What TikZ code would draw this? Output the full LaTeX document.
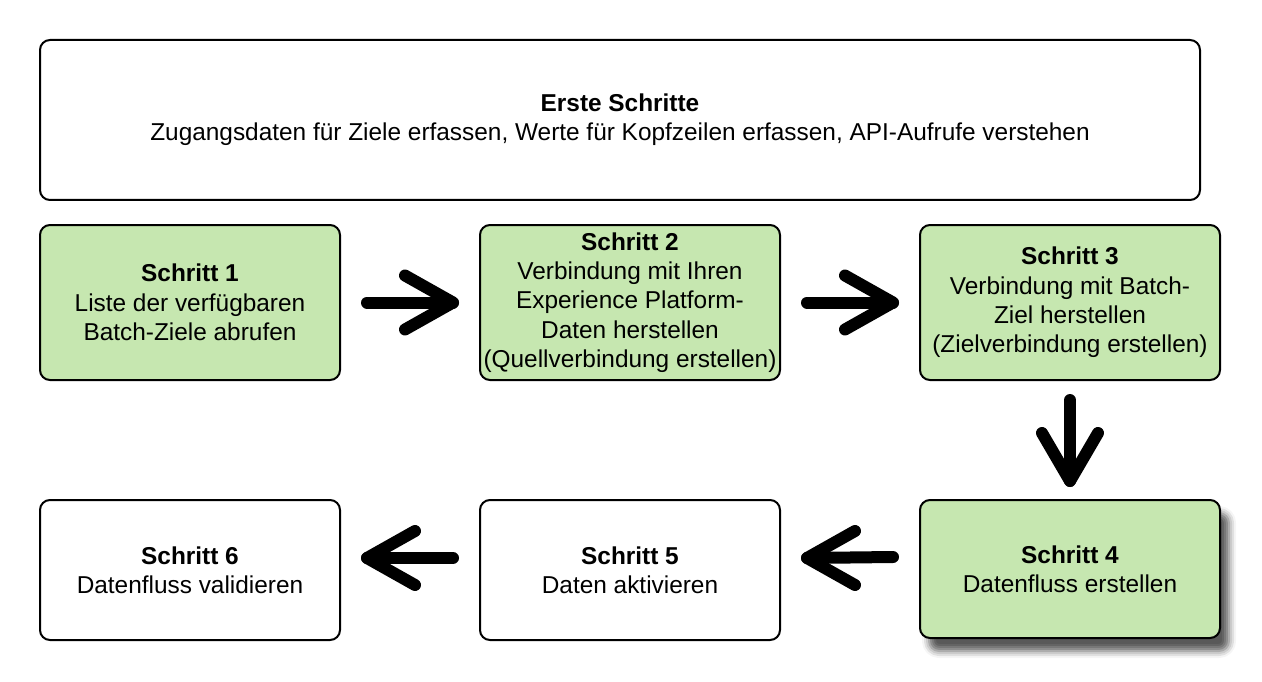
\documentclass[tikz,border=0pt]{standalone}
\usepackage{fontspec}
\setmainfont{Liberation Sans}
\usetikzlibrary{calc,shadows.blur}
\definecolor{stepgreen}{RGB}{198,231,176}
\tikzset{
  box/.style={draw=black, line width=2pt, rounded corners=10pt, align=center,
    minimum width=300pt, minimum height=155pt, inner sep=0pt,
    font=\fontsize{24.4}{29.3}\selectfont},
  greenbox/.style={box, fill=stepgreen},
  whitebox/.style={box, fill=white},
  bigarrow/.style={line width=12pt, line cap=round, line join=round, draw=black},
}
\begin{document}
\begin{tikzpicture}[x=1pt,y=-1pt]
\useasboundingbox (0,0) rectangle (1262,682);
\node[whitebox, minimum width=1160pt, minimum height=160pt] (top) at (620,120)
  {\textbf{Erste Schritte}\\Zugangsdaten für Ziele erfassen, Werte für Kopfzeilen erfassen, API-Aufrufe verstehen};
\node[greenbox] (s1) at (190,302.5) {\textbf{Schritt 1}\\Liste der verfügbaren\\Batch-Ziele abrufen};
\node[greenbox] (s2) at (630,302.5) {\textbf{Schritt 2}\\Verbindung mit Ihren\\Experience Platform-\\Daten herstellen\\(Quellverbindung erstellen)};
\node[greenbox] (s3) at (1070,302.5) {\textbf{Schritt 3}\\Verbindung mit Batch-\\Ziel herstellen\\(Zielverbindung erstellen)};
\node[greenbox, minimum height=138pt, blur shadow={shadow xshift=9pt, shadow yshift=-13pt, shadow blur radius=7pt, shadow opacity=65}] (s4) at (1070,569) {\textbf{Schritt 4}\\Datenfluss erstellen};
\node[whitebox, minimum height=140pt] (s5) at (630,570) {\textbf{Schritt 5}\\Daten aktivieren};
\node[whitebox, minimum height=140pt] (s6) at (190,570) {\textbf{Schritt 6}\\Datenfluss validieren};
% arrows
\coordinate (a1s) at ($(s1.east)+(26,0)$);
\coordinate (a1e) at ($(s2.west)+(-26,0)$);
\draw[bigarrow] (a1s) -- (a1e);
\draw[bigarrow] ($(a1e)+(-48,-27)$) -- (a1e) -- ($(a1e)+(-48,27)$);
\coordinate (a2s) at ($(s2.east)+(26,0)$);
\coordinate (a2e) at ($(s3.west)+(-26,0)$);
\draw[bigarrow] (a2s) -- (a2e);
\draw[bigarrow] ($(a2e)+(-48,-27)$) -- (a2e) -- ($(a2e)+(-48,27)$);
\coordinate (a3s) at ($(s3.south)+(0,19)$);
\coordinate (a3e) at ($(s4.north)+(0,-18)$);
\draw[bigarrow] (a3s) -- (a3e);
\draw[bigarrow] ($(a3e)+(-28,-48)$) -- (a3e) -- ($(a3e)+(28,-48)$);
\coordinate (a4s) at ($(s4.west)+(-26,-12)$);
\coordinate (a4e) at ($(s5.east)+(26,-12)$);
\draw[bigarrow] (a4s) -- (a4e);
\draw[bigarrow] ($(a4e)+(48,-27)$) -- (a4e) -- ($(a4e)+(48,27)$);
\coordinate (a5s) at ($(s5.west)+(-26,-12)$);
\coordinate (a5e) at ($(s6.east)+(26,-12)$);
\draw[bigarrow] (a5s) -- (a5e);
\draw[bigarrow] ($(a5e)+(48,-27)$) -- (a5e) -- ($(a5e)+(48,27)$);
\end{tikzpicture}
\end{document}
